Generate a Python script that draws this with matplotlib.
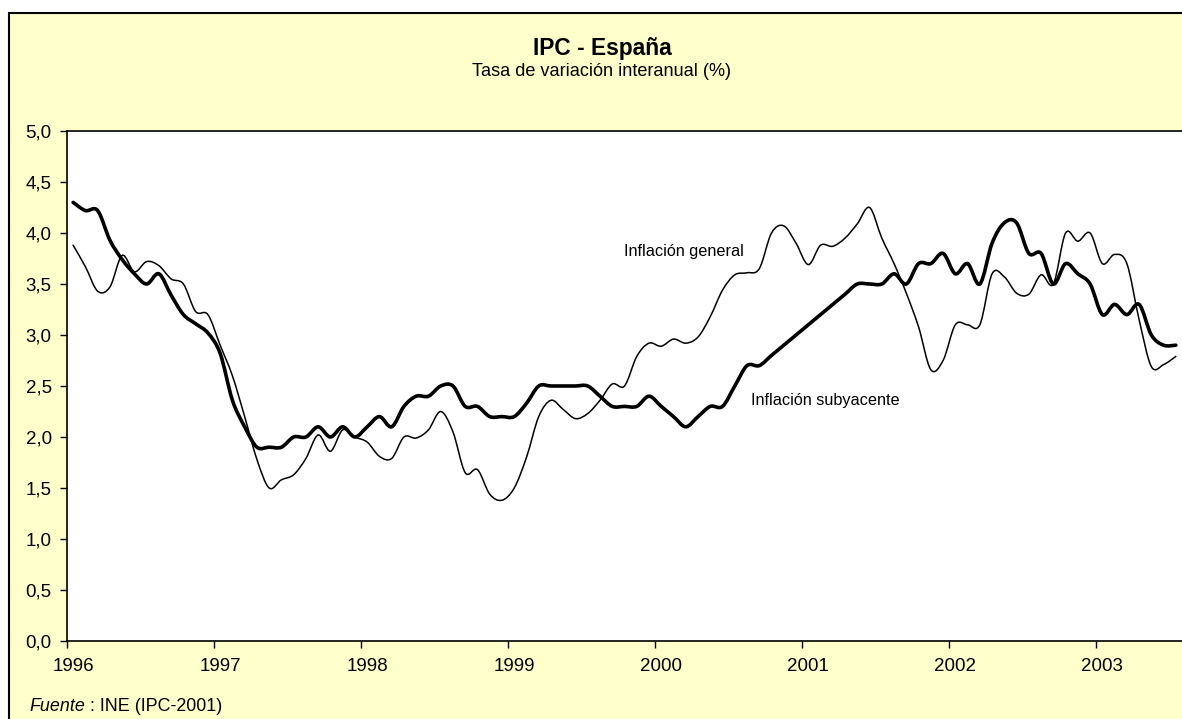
import numpy as np
import pandas as pd
import matplotlib.pyplot as plt
from matplotlib.patches import Rectangle, PathPatch
from matplotlib.path import Path
from matplotlib.ticker import FixedLocator, FuncFormatter

plt.rcParams['font.family'] = ['Liberation Sans', 'DejaVu Sans']

# ── Data (tasa de variación interanual, %) ─────────────────────────────────────
meses = pd.period_range('1996-01', '2003-07', freq='M')
anios = ['1996', '1997', '1998', '1999', '2000', '2001', '2002', '2003']

general = [3.88, 3.67, 3.43, 3.47, 3.78, 3.62, 3.72, 3.68, 3.55, 3.50, 3.23, 3.20,
           2.90, 2.60, 2.20, 1.78, 1.50, 1.58, 1.63, 1.79, 2.02, 1.86, 2.07, 2.00,
           1.95, 1.81, 1.79, 2.00, 1.99, 2.07, 2.25, 2.05, 1.65, 1.68, 1.44, 1.38,
           1.50, 1.80, 2.20, 2.36, 2.27, 2.18, 2.23, 2.36, 2.52, 2.50, 2.79, 2.92,
           2.89, 2.96, 2.92, 2.98, 3.18, 3.44, 3.59, 3.61, 3.65, 4.00, 4.07, 3.90,
           3.69, 3.88, 3.87, 3.95, 4.09, 4.25, 3.95, 3.70, 3.41, 3.08, 2.66, 2.75,
           3.10, 3.10, 3.10, 3.60, 3.57, 3.41, 3.40, 3.59, 3.50, 4.00, 3.92, 4.00,
           3.70, 3.79, 3.70, 3.15, 2.69, 2.71, 2.79]

subyacente = [4.30, 4.22, 4.22, 3.93, 3.74, 3.60, 3.50, 3.60, 3.39, 3.20, 3.11, 3.02,
              2.82, 2.36, 2.10, 1.90, 1.90, 1.90, 2.00, 2.00, 2.10, 2.00, 2.10, 2.00,
              2.10, 2.20, 2.10, 2.30, 2.40, 2.40, 2.50, 2.50, 2.30, 2.30, 2.20, 2.20,
              2.20, 2.33, 2.50, 2.50, 2.50, 2.50, 2.50, 2.40, 2.30, 2.30, 2.30, 2.40,
              2.30, 2.20, 2.10, 2.20, 2.30, 2.30, 2.50, 2.70, 2.70, 2.80, 2.90, 3.00,
              3.10, 3.20, 3.30, 3.40, 3.50, 3.50, 3.50, 3.60, 3.50, 3.70, 3.70, 3.80,
              3.60, 3.70, 3.50, 3.90, 4.10, 4.10, 3.80, 3.80, 3.50, 3.70, 3.60, 3.50,
              3.20, 3.30, 3.20, 3.30, 3.00, 2.90, 2.90]


def smooth_path(xs, ys):
    # Excel-style smoothed line: cubic Bezier through every data point
    p = np.column_stack([xs, ys]).astype(float)
    ext = np.vstack([p[0], p, p[-1]])
    verts, codes = [p[0]], [Path.MOVETO]
    for i in range(len(p) - 1):
        c1 = ext[i + 1] + (ext[i + 2] - ext[i]) / 6
        c2 = ext[i + 2] - (ext[i + 3] - ext[i + 1]) / 6
        verts += [c1, c2, p[i + 1]]
        codes += [Path.CURVE4] * 3
    return Path(verts, codes)


# ── Figure ────────────────────────────────────────────────────────────────────
fig = plt.figure(figsize=(11.82, 7.19), dpi=100, facecolor='white')
W, H = 1182, 719

# yellow chart area with black border (cut off at right and bottom)
border = Rectangle((9.5 / W, -0.05), 1.2, 1.05 - 12.5 / H,
                   transform=fig.transFigure, facecolor='#FFFFCC',
                   edgecolor='black', linewidth=1.5, zorder=-10)
fig.add_artist(border)

ax = fig.add_axes([67 / W, (H - 641) / H, (W - 67) / W, (641 - 131) / H])
ax.set_facecolor('white')

x = np.arange(len(meses)) + 0.5   # points at the centre of each month
ax.add_patch(PathPatch(smooth_path(x, general), fill=False, edgecolor='black',
                       lw=1.1, joinstyle='round', capstyle='round', zorder=3))
ax.add_patch(PathPatch(smooth_path(x, subyacente), fill=False, edgecolor='black',
                       lw=2.6, joinstyle='round', capstyle='round', zorder=4))

ax.set_xlim(0, len(meses))
ax.set_ylim(0, 5)

# year boundaries as tick marks, year labels on January
ax.xaxis.set_major_locator(FixedLocator(np.arange(0, len(meses), 12)))
ax.xaxis.set_minor_locator(FixedLocator(np.arange(0, len(meses), 12) + 0.5))
ax.xaxis.set_major_formatter(FuncFormatter(lambda v, p: ''))
ax.set_xticklabels(anios, minor=True)
ax.tick_params(axis='x', which='major', direction='out', length=5, width=1)
ax.tick_params(axis='x', which='minor', length=0, pad=12.5, labelsize=13.5)

ax.set_yticks(np.arange(0, 5.01, 0.5))
ax.yaxis.set_major_formatter(FuncFormatter(lambda v, p: f'{v:.1f}'.replace('.', ',')))
ax.tick_params(axis='y', direction='out', length=5, width=1, pad=6, labelsize=13.5)

for s in ['left', 'bottom', 'top']:
    ax.spines[s].set_color('black')
    ax.spines[s].set_linewidth(1.2)
ax.spines['right'].set_visible(False)

# series labels
ax.text(45.5, 3.77, 'Inflación general', fontsize=11.7, ha='left', va='baseline')
ax.text(55.85, 2.31, 'Inflación subyacente', fontsize=11.7, ha='left', va='baseline')

# titles
fig.text(602 / W, 1 - 54.5 / H, 'IPC - España', fontsize=16.4, fontweight='bold',
         ha='center', va='baseline')
fig.text(602 / W, 1 - 76 / H, 'Tasa de variación interanual (%)', fontsize=13.1,
         ha='center', va='baseline')

# source
t = fig.text(29 / W, 1 - 711 / H, 'Fuente', fontsize=12.9, style='italic',
             ha='left', va='baseline')
ax.annotate(' : INE (IPC-2001)', xy=(1, 0), xycoords=t, fontsize=12.9,
            ha='left', va='bottom', annotation_clip=False)

fig.savefig('out.png', dpi=100)
